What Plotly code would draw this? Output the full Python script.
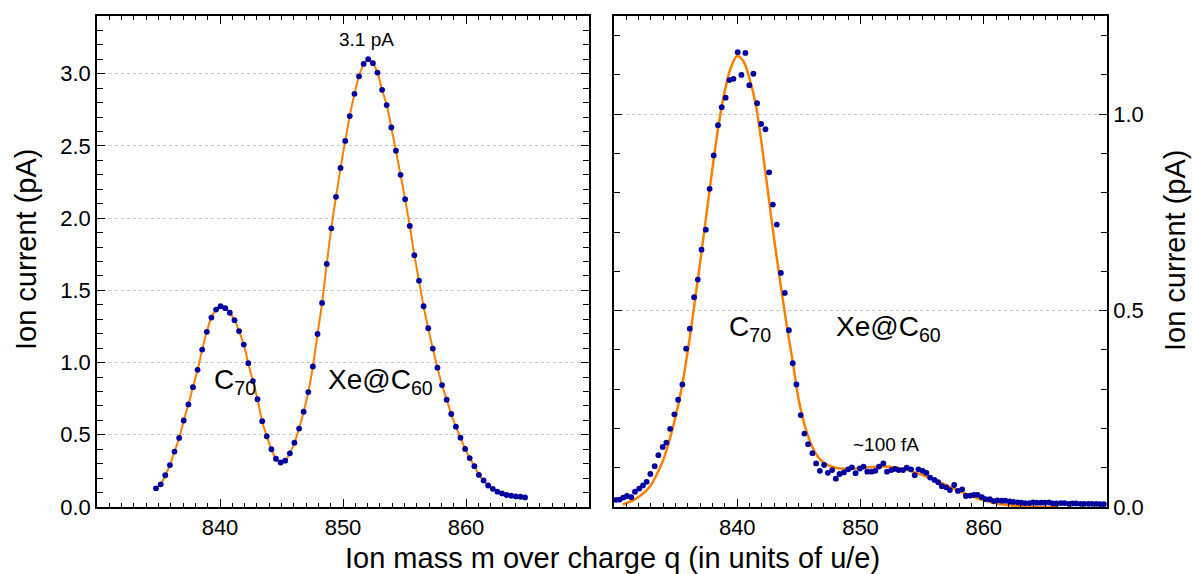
import plotly.graph_objects as go

# ---------------- data ----------------
# Left panel (measured points, fit drawn through them)
left_mass = [834.8, 835.18, 835.55, 835.93, 836.3, 836.68, 837.05, 837.43, 837.8, 838.18,
             838.55, 838.93, 839.3, 839.68, 840.05, 840.43, 840.8, 841.18, 841.55, 841.93,
             842.3, 842.68, 843.05, 843.43, 843.8, 844.18, 844.55, 844.93, 845.3, 845.68,
             846.05, 846.43, 846.8, 847.18, 847.55, 847.93, 848.3, 848.68, 849.05, 849.43,
             849.8, 850.18, 850.55, 850.93, 851.3, 851.68, 852.05, 852.43, 852.8, 853.18,
             853.55, 853.93, 854.3, 854.68, 855.05, 855.43, 855.8, 856.18, 856.55, 856.93,
             857.3, 857.68, 858.05, 858.43, 858.8, 859.18, 859.55, 859.93, 860.3, 860.68,
             861.05, 861.43, 861.8, 862.18, 862.55, 862.93, 863.3, 863.68, 864.05, 864.43, 864.8]
left_current = [0.129, 0.157, 0.22, 0.29, 0.384, 0.478, 0.599, 0.71, 0.83, 0.95,
                1.09, 1.213, 1.312, 1.367, 1.39, 1.377, 1.345, 1.294, 1.218, 1.125,
                0.996, 0.872, 0.746, 0.594, 0.49, 0.40, 0.334, 0.308, 0.321, 0.372,
                0.445, 0.543, 0.66, 0.796, 0.973, 1.198, 1.413, 1.683, 1.93, 2.148,
                2.348, 2.535, 2.707, 2.861, 2.982, 3.068, 3.101, 3.073, 3.008, 2.889,
                2.783, 2.628, 2.467, 2.3, 2.131, 1.946, 1.744, 1.567, 1.39, 1.238,
                1.097, 0.965, 0.844, 0.743, 0.644, 0.556, 0.48, 0.402, 0.339, 0.283,
                0.222, 0.184, 0.149, 0.126, 0.106, 0.094, 0.083, 0.078, 0.073, 0.071, 0.066]

# Right panel (measured points)
right_mass = [830.15, 830.45, 830.75, 831.05, 831.4, 831.7, 832.05, 832.35, 832.65, 832.95,
              833.3, 833.6, 833.95, 834.25, 834.55, 834.9, 835.2, 835.55, 835.85, 836.15,
              836.5, 836.8, 837.1, 837.45, 837.76, 838.09, 838.44, 838.74, 839.06, 839.36,
              839.69, 840.04, 840.34, 840.66, 840.98, 841.31, 841.61, 841.94, 842.29, 842.59,
              842.89, 843.21, 843.54, 843.86, 844.19, 844.5, 844.8, 845.15, 845.45, 845.75,
              846.1, 846.4, 846.7, 847.05, 847.35, 847.7, 848.0, 848.3, 848.65, 849.0,
              849.3, 849.6, 849.95, 850.25, 850.55, 850.9, 851.2, 851.5, 851.85, 852.15,
              852.5, 852.8, 853.1, 853.45, 853.75, 854.1, 854.4, 854.7, 855.05, 855.35,
              855.65, 856.0, 856.3, 856.6, 856.95, 857.25, 857.6, 857.9, 858.25, 858.55,
              858.9, 859.2, 859.5, 859.85, 860.15, 860.5, 860.8, 861.1, 861.45, 861.75,
              862.1, 862.4, 862.75, 863.05, 863.35, 863.7, 864.0, 864.3, 864.65, 864.95,
              865.3, 865.6, 865.9, 866.25, 866.55, 866.9, 867.2, 867.5, 867.85, 868.15,
              868.5, 868.8, 869.15, 869.45, 869.75]
right_current = [0.018, 0.019, 0.024, 0.028, 0.025, 0.039, 0.047, 0.055, 0.064, 0.084,
                 0.104, 0.132, 0.153, 0.164, 0.199, 0.236, 0.273, 0.312, 0.403, 0.454,
                 0.534, 0.579, 0.655, 0.706, 0.81, 0.895, 0.972, 1.018, 1.042, 1.087,
                 1.09, 1.158, 1.1, 1.156, 1.074, 1.103, 1.028, 0.975, 0.962, 0.852,
                 0.77, 0.719, 0.596, 0.545, 0.45, 0.366, 0.312, 0.234, 0.187, 0.16,
                 0.137, 0.111, 0.092, 0.107, 0.087, 0.094, 0.072, 0.084, 0.088, 0.096,
                 0.101, 0.086, 0.098, 0.103, 0.09, 0.09, 0.092, 0.103, 0.111, 0.09,
                 0.094, 0.097, 0.094, 0.094, 0.1, 0.096, 0.081, 0.096, 0.092, 0.087,
                 0.075, 0.069, 0.063, 0.053, 0.05, 0.043, 0.056, 0.041, 0.045, 0.028,
                 0.029, 0.031, 0.031, 0.025, 0.02, 0.02, 0.015, 0.017, 0.016, 0.016,
                 0.014, 0.013, 0.012, 0.011, 0.01, 0.01, 0.012, 0.011, 0.011, 0.011,
                 0.012, 0.009, 0.009, 0.01, 0.01, 0.008, 0.009, 0.009, 0.008, 0.008,
                 0.008, 0.008, 0.008, 0.007, 0.007]

# Right panel fit curve
fit_mass = [830.7, 831.0, 831.5, 832.0, 832.5, 833.0, 833.5, 834.0, 834.5, 835.0,
            835.5, 836.0, 836.5, 837.0, 837.5, 838.0, 838.5, 839.0, 839.5, 840.0,
            840.5, 841.0, 841.5, 842.0, 842.5, 843.0, 843.5, 844.0, 844.5, 845.0,
            845.5, 846.0, 846.5, 847.0, 848.0, 849.0, 850.0, 851.0, 852.0, 853.0,
            854.0, 855.0, 856.0, 857.0, 858.0, 859.0, 860.0, 861.0, 862.0, 863.0,
            864.0, 865.0, 866.0]
fit_current = [0.006, 0.010, 0.016, 0.026, 0.038, 0.056, 0.085, 0.120, 0.170, 0.230,
               0.305, 0.400, 0.510, 0.625, 0.745, 0.865, 0.975, 1.060, 1.120, 1.148,
               1.135, 1.090, 1.025, 0.920, 0.800, 0.680, 0.570, 0.465, 0.370, 0.270,
               0.205, 0.160, 0.130, 0.113, 0.100, 0.097, 0.099, 0.102, 0.103, 0.100,
               0.092, 0.082, 0.069, 0.055, 0.041, 0.028, 0.017, 0.009, 0.005, 0.002,
               0.001, 0.000, 0.000]

x_ticks = [840, 850, 860]
x_range = [830, 870]
left_y_range = [0, 3.4]
right_y_range = [0, 1.25]

# ---------------- style ----------------
W, H = 1192, 574
FONT = "Liberation Sans, Arial, sans-serif"
DOT = "#0000a0"
ORANGE = "#ff8000"
GRID = "#c4c4c4"

def px_x(p):
    return p / W

def px_y(p):
    return 1 - p / H

fig = go.Figure()

fig.add_trace(go.Scatter(x=left_mass, y=left_current, mode="lines",
                         line=dict(color=ORANGE, width=2, shape="spline"),
                         xaxis="x", yaxis="y", hoverinfo="skip"))
fig.add_trace(go.Scatter(x=left_mass, y=left_current, mode="markers",
                         marker=dict(color=DOT, size=5.8),
                         xaxis="x", yaxis="y"))
fig.add_trace(go.Scatter(x=fit_mass, y=fit_current, mode="lines",
                         line=dict(color=ORANGE, width=2.5, shape="spline"),
                         xaxis="x2", yaxis="y2", hoverinfo="skip"))
fig.add_trace(go.Scatter(x=right_mass, y=right_current, mode="markers",
                         marker=dict(color=DOT, size=5.8),
                         xaxis="x2", yaxis="y2"))

xcommon = dict(range=x_range, tickvals=x_ticks, ticks="inside", ticklen=8, tickwidth=1.3,
               tickcolor="black", showline=True, linecolor="black", linewidth=1.5,
               mirror="allticks", showgrid=False, zeroline=False, automargin=False,
               tickfont=dict(family=FONT, size=22, color="black"),
               minor=dict(ticks="inside", ticklen=4.5, tickwidth=1.1, tickcolor="black",
                          dtick=1, tick0=830, showgrid=False))
ycommon = dict(ticks="inside", ticklen=8, tickwidth=1.3, tickcolor="black",
               showline=True, linecolor="black", linewidth=1.5, mirror="allticks",
               showgrid=True, gridcolor=GRID, griddash="3px,3px", gridwidth=1,
               zeroline=False, dtick=0.5, tick0=0, tickformat=".1f", automargin=False,
               tickfont=dict(family=FONT, size=22, color="black"),
               minor=dict(ticks="inside", ticklen=6, tickwidth=1.1, tickcolor="black",
                          dtick=0.1, tick0=0, showgrid=False))

y_dom = [px_y(507), px_y(16)]
fig.update_layout(
    width=W, height=H,
    margin=dict(l=0, r=0, t=0, b=0, autoexpand=False),
    paper_bgcolor="white", plot_bgcolor="white",
    showlegend=False,
    font=dict(family=FONT, color="black"),
    xaxis=dict(domain=[px_x(97), px_x(589)], anchor="y", **xcommon),
    yaxis=dict(domain=y_dom, anchor="x", range=left_y_range, side="left", **ycommon),
    xaxis2=dict(domain=[px_x(614), px_x(1107)], anchor="y2", **xcommon),
    yaxis2=dict(domain=y_dom, anchor="x2", range=right_y_range, side="right",
                showticklabels=True, **ycommon),
)

ann = []
# titles
ann.append(dict(text="Ion current (pA)", x=px_x(26), y=px_y(250), xref="paper", yref="paper",
                textangle=-90, showarrow=False, font=dict(family=FONT, size=29),
                xanchor="center", yanchor="middle"))
ann.append(dict(text="Ion current (pA)", x=px_x(1175), y=px_y(251), xref="paper", yref="paper",
                textangle=-90, showarrow=False, font=dict(family=FONT, size=29),
                xanchor="center", yanchor="middle"))
ann.append(dict(text="Ion mass m over charge q (in units of u/e)", x=px_x(612), y=px_y(558),
                xref="paper", yref="paper", showarrow=False, font=dict(family=FONT, size=29),
                xanchor="center", yanchor="middle"))
# in-plot labels
ann.append(dict(text="3.1 pA", x=851.95, y=3.24, xref="x", yref="y", showarrow=False,
                font=dict(family=FONT, size=19), xanchor="center", yanchor="middle"))
ann.append(dict(text="C<sub>70</sub>", x=839.35, y=0.87, xref="x", yref="y", showarrow=False,
                font=dict(family=FONT, size=28), xanchor="left", yanchor="middle"))
ann.append(dict(text="Xe@C<sub>60</sub>", x=848.65, y=0.87, xref="x", yref="y", showarrow=False,
                font=dict(family=FONT, size=28), xanchor="left", yanchor="middle"))
ann.append(dict(text="C<sub>70</sub>", x=839.2, y=0.455, xref="x2", yref="y2", showarrow=False,
                font=dict(family=FONT, size=28), xanchor="left", yanchor="middle"))
ann.append(dict(text="Xe@C<sub>60</sub>", x=847.85, y=0.455, xref="x2", yref="y2", showarrow=False,
                font=dict(family=FONT, size=28), xanchor="left", yanchor="middle"))
ann.append(dict(text="~100 fA", x=852.05, y=0.158, xref="x2", yref="y2", showarrow=False,
                font=dict(family=FONT, size=19), xanchor="center", yanchor="middle"))
fig.update_layout(annotations=ann)

fig.write_html("out.html")
